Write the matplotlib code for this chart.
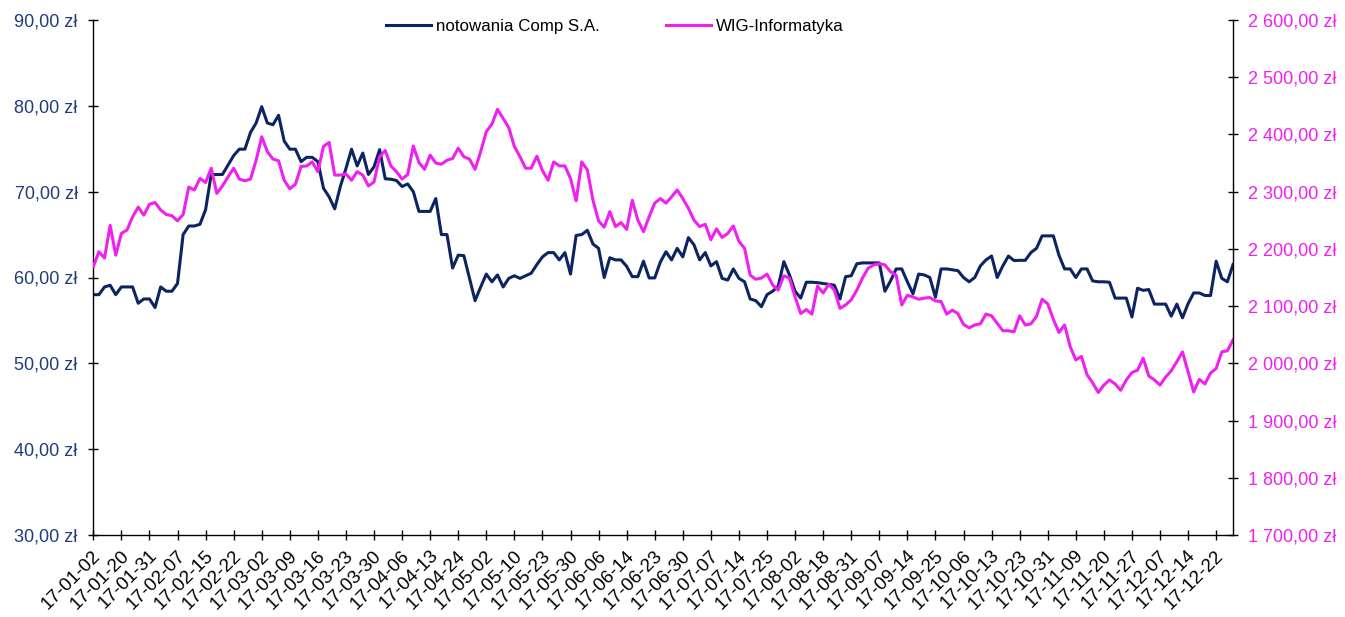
import matplotlib
matplotlib.use('Agg')
import matplotlib.pyplot as plt
import matplotlib.transforms as mtransforms
from matplotlib.ticker import FuncFormatter, MultipleLocator

plt.rcParams['font.family'] = ['Liberation Sans', 'DejaVu Sans']

tick_labels = [
    "17-01-02", "17-01-20", "17-01-31", "17-02-07", "17-02-15", "17-02-22",
    "17-03-02", "17-03-09", "17-03-16", "17-03-23", "17-03-30", "17-04-06",
    "17-04-13", "17-04-24", "17-05-02", "17-05-10", "17-05-23", "17-05-30",
    "17-06-06", "17-06-14", "17-06-23", "17-06-30", "17-07-07", "17-07-14",
    "17-07-25", "17-08-02", "17-08-18", "17-08-31", "17-09-07", "17-09-14",
    "17-09-25", "17-10-06", "17-10-13", "17-10-23", "17-10-31", "17-11-09",
    "17-11-20", "17-11-27", "17-12-07", "17-12-14", "17-12-22",
]

comp = [
    58.0, 58.0, 58.9, 59.1, 58.0, 58.9, 58.9, 58.9, 57.0, 57.5,
    57.5, 56.5, 58.9, 58.4, 58.4, 59.3, 65.0, 66.0, 66.0, 66.2,
    67.9, 72.0, 72.0, 72.0, 73.1, 74.2, 74.95, 74.95, 76.9, 78.0,
    79.9, 78.0, 77.8, 78.9, 75.9, 74.95, 74.95, 73.5, 74.0, 74.0,
    73.5, 70.4, 69.4, 68.0, 70.6, 72.7, 74.95, 73.0, 74.5, 72.0,
    72.9, 74.9, 71.5,
    71.45, 71.3, 70.6, 70.9, 70.0, 67.7, 67.7, 67.7, 69.2, 65.0,
    65.0, 61.1, 62.6, 62.55, 59.9, 57.3, 58.9, 60.4, 59.5, 60.3,
    58.9, 59.9, 60.2, 59.9, 60.2, 60.5, 61.5, 62.4, 62.9, 62.9,
    62.05, 62.9, 60.4, 64.9, 65.0, 65.5, 63.9, 63.4, 60.0, 62.3,
    62.05, 62.05, 61.3, 60.1, 60.1, 61.9, 59.95, 59.95, 61.8, 63.0,
    62.05, 63.4,
    62.4, 64.65, 63.8, 62.05, 62.9, 61.35, 61.85, 59.9, 59.7, 61.0,
    59.9, 59.5, 57.5, 57.3, 56.6, 58.0, 58.4, 59.0, 61.85, 60.3,
    58.4, 57.6, 59.45, 59.45, 59.4, 59.3, 59.2, 59.1, 57.5, 60.1,
    60.2, 61.6, 61.7, 61.7, 61.7, 61.7, 58.4, 59.6, 61.0, 61.0,
    59.5, 58.1, 60.4, 60.3, 60.0, 57.7, 61.0, 61.0, 60.9, 60.8,
    60.0, 59.5, 60.0, 61.35, 62.05, 62.5, 60.0, 61.35, 62.5, 61.97,
    62.0, 62.0, 62.9, 63.4, 64.85, 64.85, 64.85, 62.6, 61.0, 61.0,
    60.0, 61.0, 61.0, 59.6, 59.5, 59.5, 59.45, 57.6, 57.6, 57.6,
    55.4, 58.75, 58.5, 58.6, 56.9, 56.9, 56.9, 55.5, 56.9, 55.3,
    56.95, 58.2, 58.2, 57.9, 57.9, 61.9, 59.9, 59.5, 61.5,
]

wig = [
    2169, 2195, 2184, 2241, 2189, 2227, 2233, 2256, 2273, 2259,
    2278, 2281, 2268, 2260, 2258, 2249, 2260, 2308, 2303, 2323,
    2316, 2341, 2297, 2310, 2326, 2341, 2322, 2319, 2322, 2355,
    2396, 2370, 2357, 2354, 2320, 2305, 2313, 2344, 2345, 2352,
    2335, 2379, 2386, 2329, 2329, 2331, 2320, 2335, 2329, 2310,
    2317, 2361, 2372,
    2345, 2335, 2322, 2330, 2380, 2351, 2339, 2364, 2350, 2348,
    2355, 2358, 2376, 2361, 2357, 2339, 2370, 2405, 2418, 2444,
    2428, 2412, 2379, 2361, 2341, 2341, 2362, 2337, 2320, 2352,
    2345, 2345, 2323, 2284, 2352, 2338, 2285, 2249, 2238, 2265,
    2239, 2246, 2234, 2285, 2250, 2230, 2256, 2280, 2288, 2280,
    2291, 2303,
    2288, 2271, 2250, 2239, 2243, 2216, 2235, 2220, 2227, 2240,
    2213, 2201, 2154, 2147, 2149, 2156, 2137, 2128, 2153, 2149,
    2116, 2087, 2094, 2086, 2135, 2123, 2138, 2128, 2096, 2102,
    2111, 2128, 2149, 2166, 2172, 2174, 2172, 2160, 2154, 2102,
    2119, 2116, 2112, 2114, 2115, 2109, 2108, 2086, 2093, 2087,
    2068, 2062, 2067, 2069, 2086, 2083, 2070, 2057, 2057, 2055,
    2083, 2067, 2069, 2082, 2112, 2104, 2077, 2054, 2067, 2029,
    2006, 2012, 1980, 1966, 1949, 1962, 1971, 1964, 1953, 1971,
    1984, 1988, 2009, 1978, 1971, 1962, 1976, 1987, 2003, 2020,
    1985, 1950, 1972, 1964, 1983, 1991, 2020, 2022, 2041,
]

NAVY = '#0C2461'
NAVY_TXT = '#1F3C7C'
MAG = '#F020F0'

W, H = 1345, 617
fig = plt.figure(figsize=(W / 100, H / 100), dpi=100)
x0, x1, yt, yb = 93.3, 1233, 20, 535
ax = fig.add_axes([x0 / W, (H - yb) / H, (x1 - x0) / W, (yb - yt) / H])
ax2 = ax.twinx()

x = list(range(len(comp)))
l1, = ax.plot(x, comp, color=NAVY, lw=2.2, solid_joinstyle='round',
              label='notowania Comp S.A.')
l2, = ax2.plot(x, wig, color=MAG, lw=2.2, solid_joinstyle='round',
               label='WIG-Informatyka')

ax.set_xlim(0, len(comp) - 1)
ax.set_ylim(30, 90)
ax2.set_ylim(1700, 2600)
ax.yaxis.set_major_locator(MultipleLocator(10))
ax2.yaxis.set_major_locator(MultipleLocator(100))


def fmt_left(v, pos):
    return f"{v:.2f}".replace('.', ',') + " zł"


def fmt_right(v, pos):
    s = f"{v:,.2f}"
    s = s.replace(',', ' ').replace('.', ',')
    return s + " zł"


ax.yaxis.set_major_formatter(FuncFormatter(fmt_left))
ax2.yaxis.set_major_formatter(FuncFormatter(fmt_right))

ax.set_xticks(list(range(0, len(comp), 5)))
ax.set_xticklabels(tick_labels, rotation=45, ha='right', va='center',
                   rotation_mode='anchor')

for a in (ax, ax2):
    a.spines['top'].set_visible(False)
    for s in a.spines.values():
        s.set_linewidth(1.0)
        s.set_color('black')
ax.spines['right'].set_visible(False)
ax2.spines['left'].set_visible(False)
ax2.spines['bottom'].set_visible(False)

ax.tick_params(axis='y', direction='inout', length=7.2, width=1,
               pad=7.6, labelsize=13, labelcolor=NAVY_TXT)
ax2.tick_params(axis='y', direction='inout', length=7.2, width=1,
                pad=7.0, labelsize=13, labelcolor=MAG)
ax.tick_params(axis='x', direction='inout', length=7.2, width=1,
               pad=9.4, labelsize=13.5, labelcolor='black')

offset = mtransforms.ScaledTranslation(5 / 100, 0, fig.dpi_scale_trans)
for lbl in ax.get_xticklabels():
    lbl.set_transform(lbl.get_transform() + offset)

fig.legend(handles=[l1, l2], loc='center', bbox_to_anchor=(0.457, 1 - 26 / H),
           ncol=2, frameon=False, fontsize=12.2, handlelength=2.65,
           handletextpad=0.3, columnspacing=3.9)

fig.savefig('out.png', dpi=100)
